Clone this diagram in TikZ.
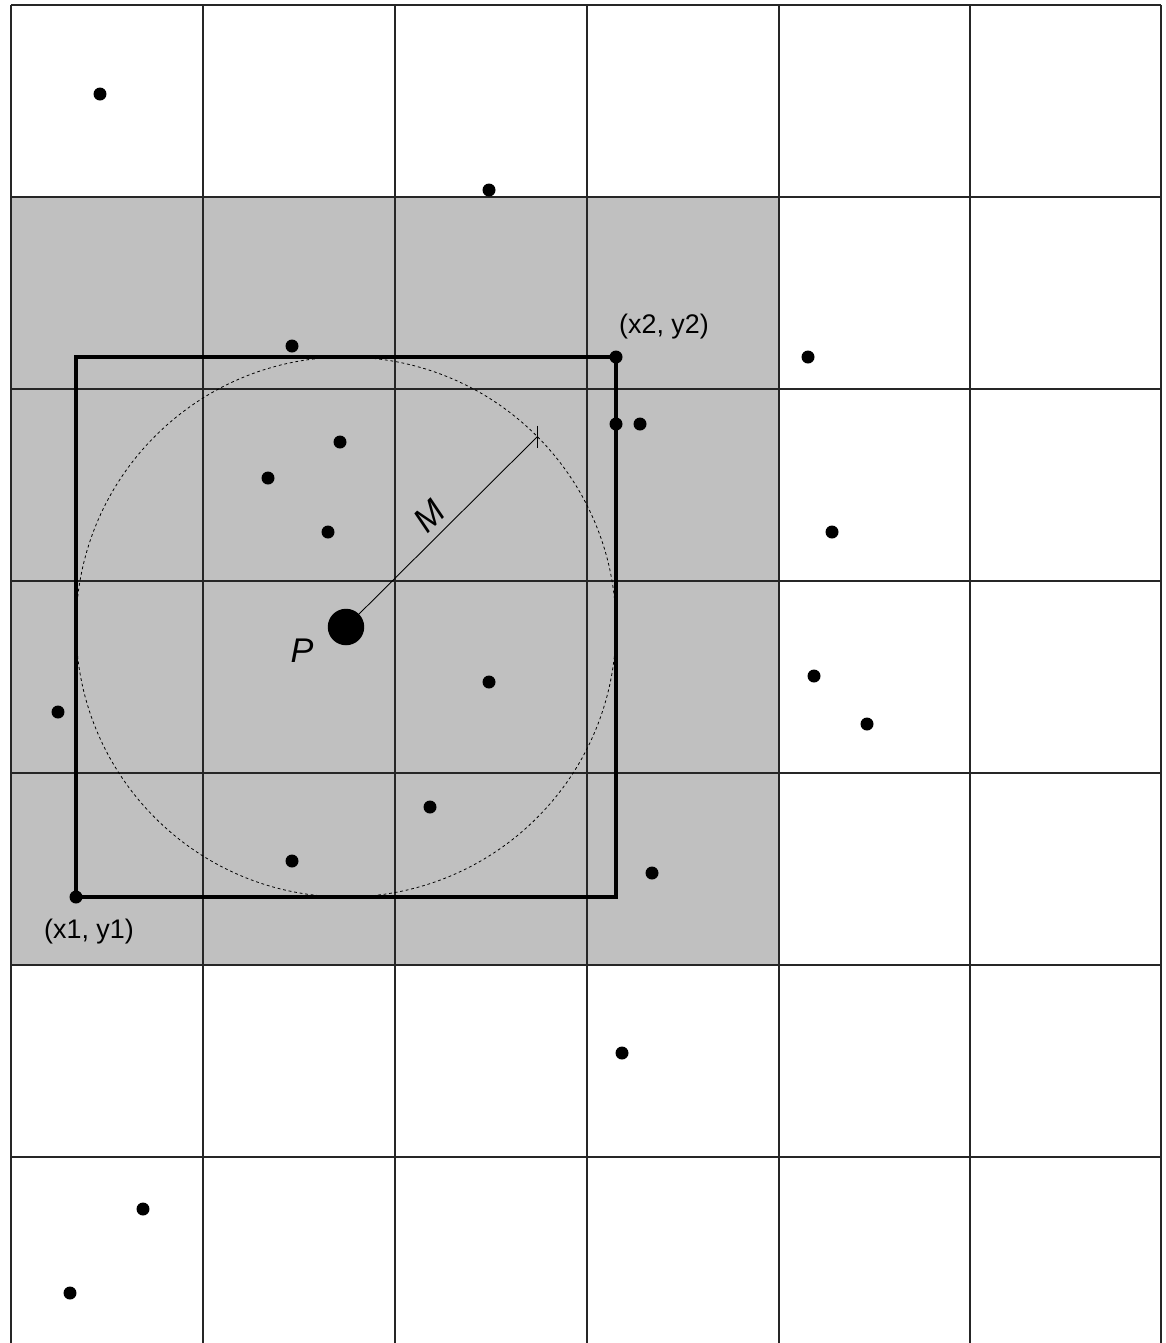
\documentclass[tikz,border=0pt]{standalone}
\usepackage{fontspec}
\setmainfont{Liberation Sans}
\begin{document}
\begin{tikzpicture}[x=0.02cm,y=-0.02cm,
  gridline/.style={line width=0.8pt,draw=black!85},
  dot/.style={circle,fill=black,inner sep=0pt,minimum size=0.26cm},
  bigdot/.style={circle,fill=black,inner sep=0pt,minimum size=0.73cm},
  lbl/.style={font=\fontsize{15.3}{18}\selectfont,inner sep=0pt},
  ilbl/.style={font=\fontsize{19.5}{22}\selectfont\itshape,inner sep=0pt}]
\useasboundingbox (0,0) rectangle (1166,1343);
\clip (0,0) rectangle (1166,1343);
\fill[white] (0,0) rectangle (1166,1343);
% shaded region
\fill[fill={rgb,255:red,192;green,192;blue,192}] (11,197) rectangle (779,965);
% grid
\foreach \x in {11,203,395,587,779,970,1161}
  \draw[gridline] (\x,5) -- (\x,1350);
\foreach \y in {5,197,389,581,773,965,1157}
  \draw[gridline] (11,\y) -- (1161,\y);
% circle
\draw[line width=0.45pt,dash pattern=on 1.6pt off 1.6pt] (346,627) circle[radius=5.4cm];
% box
\draw[line width=1.9pt] (76,357) rectangle (616,897);
% P and M line
\node[bigdot] (P) at (346,627) {};
\coordinate (Mend) at (537.5,436.5);
\draw[line width=0.5pt] (P.center) -- (Mend);
\draw[line width=0.5pt] ([yshift=0.22cm]Mend) -- ([yshift=-0.22cm]Mend);
\node[ilbl,rotate=45] (Mlbl) at (429,516) {M};
\node[ilbl] (Plbl) at (302,651) {P};
% corners
\node[dot] (c1) at (76,897) {};
\node[dot] (c2) at (616,357) {};
\node[lbl] (c1l) at (89,932) {(x1, y1)};
\node[lbl] (c2l) at (664,327) {(x2, y2)};
% dots
\node[dot] (d1) at (100,94) {};
\node[dot] (d2) at (489,190) {};
\node[dot] (d3) at (292,346) {};
\node[dot] (d4) at (808,357) {};
\node[dot] (d5) at (616,424) {};
\node[dot] (d6) at (640,424) {};
\node[dot] (d7) at (340,442) {};
\node[dot] (d8) at (268,478) {};
\node[dot] (d9) at (328,532) {};
\node[dot] (d10) at (832,532) {};
\node[dot] (d11) at (489,682) {};
\node[dot] (d12) at (58,712) {};
\node[dot] (d13) at (814,676) {};
\node[dot] (d14) at (867,724) {};
\node[dot] (d15) at (430,807) {};
\node[dot] (d16) at (292,861) {};
\node[dot] (d17) at (652,873) {};
\node[dot] (d18) at (622,1053) {};
\node[dot] (d19) at (143,1209) {};
\node[dot] (d20) at (70,1293) {};
\end{tikzpicture}
\end{document}
